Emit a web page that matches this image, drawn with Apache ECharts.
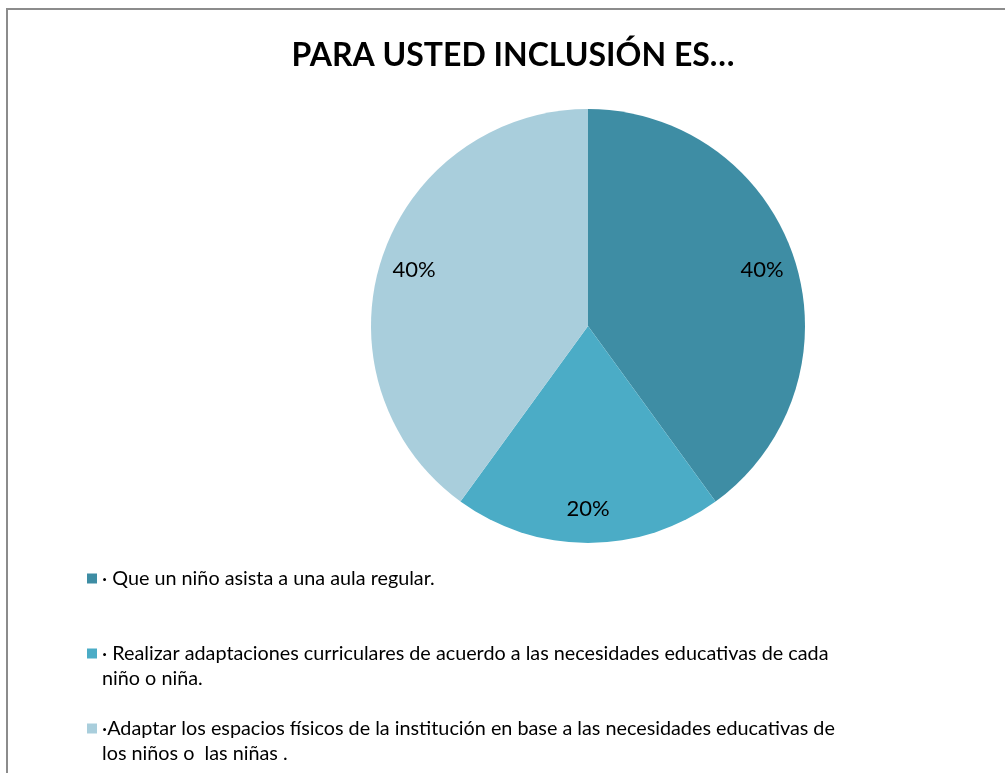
<!DOCTYPE html>
<html>
<head>
<meta charset="utf-8">
<script src="https://cdn.jsdelivr.net/npm/echarts@6/dist/echarts.min.js"></script>
<style>
  html, body { margin: 0; padding: 0; background: #fff; }
  #chart { position: absolute; left: 0; top: 0; width: 1005px; height: 773px; }
  #frame { position: absolute; left: 6px; top: 8px; width: 1100px; height: 900px;
           border: 2px solid #8c8c8c; pointer-events: none; }
</style>
</head>
<body>
<div id="chart"></div>
<div id="frame"></div>
<script>
// answers to the question
let categories = [
    '· Que un niño asista a una aula regular.',
    '· Realizar adaptaciones curriculares de acuerdo a las necesidades educativas de cada niño o niña.',
    '·Adaptar los espacios físicos de la institución en base a las necesidades educativas de los niños o  las niñas .'
];
// same text, wrapped the way the legend shows it
let legendLines = [
    ['· Que un niño asista a una aula regular.', ' '],
    ['· Realizar adaptaciones curriculares de acuerdo a las necesidades educativas de cada', 'niño o niña.'],
    ['·Adaptar los espacios físicos de la institución en base a las necesidades educativas de', 'los niños o  las niñas .']
];
let percents = [40, 20, 40];
let colorList = ['#3e8da4', '#4bacc6', '#a9cedc'];

function initChart() {
    let myChart = echarts.init(document.getElementById('chart'));
    let pieData = categories.map((name, i) => {
        return { name: name, value: percents[i] };
    });
    let font = 'Lato, "Open Sans", sans-serif';

    let option = {
        color: colorList,
        animation: false,
        title: {
            text: 'PARA USTED INCLUSIÓN ES…',
            left: 508,
            top: 35,
            textAlign: 'center',
            textStyle: {
                fontFamily: font,
                fontSize: 32,
                fontWeight: 'bold',
                color: '#000'
            }
        },
        legend: {
            orient: 'vertical',
            left: 87,
            top: 541,
            padding: 0,
            itemGap: 0,
            itemWidth: 10,
            itemHeight: 10,
            icon: 'rect',
            data: categories,
            formatter: function (name) {
                // blank first line so the icon sits beside the first text line
                return ' \n' + legendLines[categories.indexOf(name)].join('\n');
            },
            textStyle: {
                fontFamily: font,
                fontSize: 19.8,
                lineHeight: 25,
                color: '#000'
            }
        },
        series: [
            {
                // the pie itself
                type: 'pie',
                center: [588, 326],
                radius: [0, 217],
                startAngle: 90,
                data: pieData,
                label: { show: false },
                labelLine: { show: false },
                emphasis: { disabled: true }
            },
            {
                // transparent ring that only carries the percentage labels
                type: 'pie',
                center: [588, 326],
                radius: [143, 217],
                startAngle: 90,
                silent: true,
                data: pieData,
                itemStyle: { color: 'rgba(0,0,0,0)' },
                label: {
                    show: true,
                    position: 'inside',
                    formatter: '{c}%',
                    fontFamily: font,
                    fontSize: 22,
                    color: '#000'
                },
                labelLine: { show: false },
                emphasis: { disabled: true }
            }
        ]
    };

    myChart.setOption(option);
    return myChart;
}

initChart();
</script>
</body>
</html>
